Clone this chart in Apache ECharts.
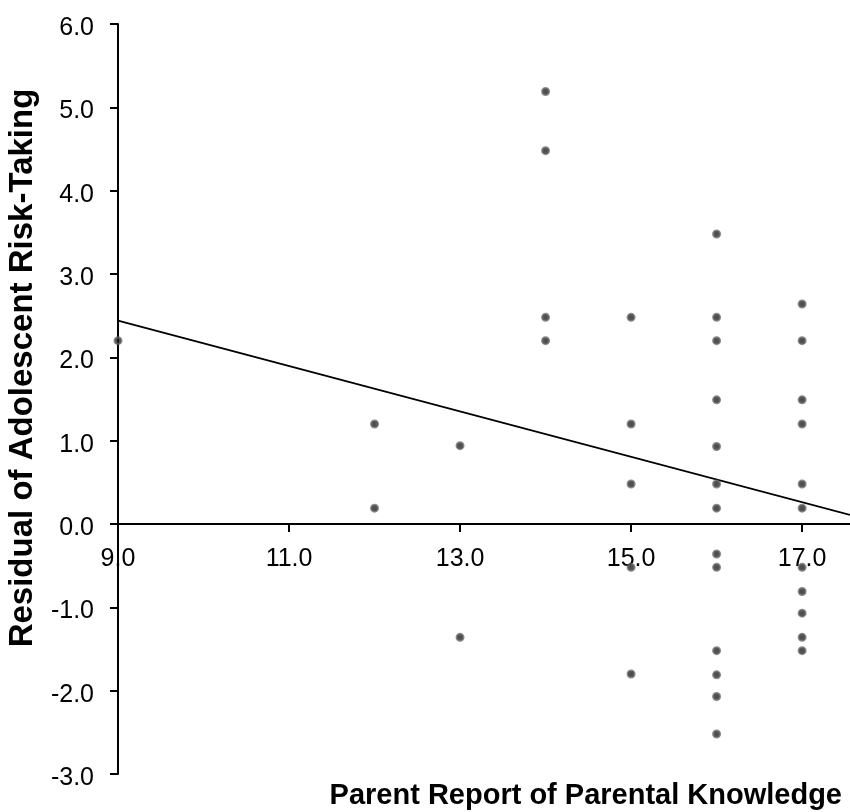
<!DOCTYPE html>
<html>
<head>
<meta charset="utf-8">
<script src="https://cdn.jsdelivr.net/npm/echarts@6/dist/echarts.min.js"></script>
<style>
  html, body { margin: 0; padding: 0; background: #fff; }
  #main { width: 850px; height: 812px; }
</style>
</head>
<body>
<div id="main"></div>
<script>
// tick labels
var xTicks = [9, 11, 13, 15, 17];
var yTicks = [-3, -2, -1, 0, 1, 2, 3, 4, 5, 6];

// scatter: parent report (x) vs residual (y)
var knowledge = [
  9,
  12, 12,
  13, 13,
  14, 14, 14, 14,
  15, 15, 15, 15, 15,
  16, 16, 16, 16, 16, 16, 16, 16, 16, 16, 16, 16, 16,
  17, 17, 17, 17, 17, 17, 17, 17, 17, 17, 17
];
var residual = [
  2.20,
  1.20, 0.19,
  0.94, -1.36,
  5.19, 4.48, 2.48, 2.20,
  2.48, 1.20, 0.48, -0.52, -1.80,
  3.48, 2.48, 2.20, 1.49, 0.93, 0.48, 0.19, -0.36, -0.52, -1.52, -1.81, -2.07, -2.52,
  2.64, 2.20, 1.49, 1.20, 0.48, 0.19, -0.52, -0.81, -1.07, -1.36, -1.52
];

// fitted line end points
var fitX = [9, 17.56];
var fitY = [2.44, 0.11];

var points = knowledge.map(function (x, i) { return [x, residual[i]]; });
var fitLine = fitX.map(function (x, i) { return [x, fitY[i]]; });

var chart = echarts.init(document.getElementById('main'));

// grid is 750px tall for 9 units, so y=0 sits 3/9 of it above the bottom
var gridH = 750;
var zeroOffset = -gridH * (0 - yTicks[0]) / (yTicks[yTicks.length - 1] - yTicks[0]);

var option = {
  animation: false,
  textStyle: { fontFamily: 'Liberation Sans, Arial, sans-serif' },
  grid: {
    left: 118,
    right: 0,
    top: 24,
    height: gridH,
    containLabel: false,
    outerBoundsMode: 'none'
  },
  xAxis: {
    type: 'value',
    min: 9,
    max: 17.56,
    position: 'bottom',
    offset: zeroOffset,
    splitLine: { show: false },
    axisLine: { onZero: false, lineStyle: { color: '#000', width: 2 } },
    axisTick: { show: true, length: 8, lineStyle: { color: '#000', width: 2 }, customValues: xTicks },
    axisLabel: {
      customValues: xTicks,
      color: '#000',
      fontSize: 25,
      margin: 23,
      formatter: function (v) { return v.toFixed(1); }
    }
  },
  yAxis: {
    type: 'value',
    min: yTicks[0],
    max: yTicks[yTicks.length - 1],
    interval: 1,
    splitLine: { show: false },
    axisLine: { show: true, lineStyle: { color: '#000', width: 2 } },
    axisTick: { show: true, length: 8, lineStyle: { color: '#000', width: 2 } },
    axisLabel: {
      color: '#000',
      fontSize: 25,
      margin: 24,
      verticalAlign: 'top',
      lineHeight: 8,
      formatter: function (v) { return v.toFixed(1); }
    }
  },
  graphic: [
    {
      type: 'text',
      right: 8,
      top: 781,
      style: {
        text: 'Parent Report of Parental Knowledge',
        font: 'bold 29px Liberation Sans, Arial, sans-serif',
        fill: '#000'
      }
    },
    {
      type: 'text',
      x: 23,
      y: 368,
      rotation: Math.PI / 2,
      style: {
        text: 'Residual of Adolescent Risk-Taking',
        font: 'bold 33px Liberation Sans, Arial, sans-serif',
        fill: '#000',
        align: 'center',
        verticalAlign: 'middle'
      }
    }
  ],
  series: [
    {
      type: 'line',
      data: fitLine,
      showSymbol: false,
      silent: true,
      lineStyle: { color: '#000', width: 1.8 },
      z: 1
    },
    {
      type: 'scatter',
      data: points,
      symbol: 'circle',
      symbolSize: 6.5,
      itemStyle: {
        color: '#222',
        borderColor: 'rgba(95,95,95,0.9)',
        borderWidth: 2.5
      },
      z: 2
    }
  ]
};

chart.setOption(option);
</script>
</body>
</html>
